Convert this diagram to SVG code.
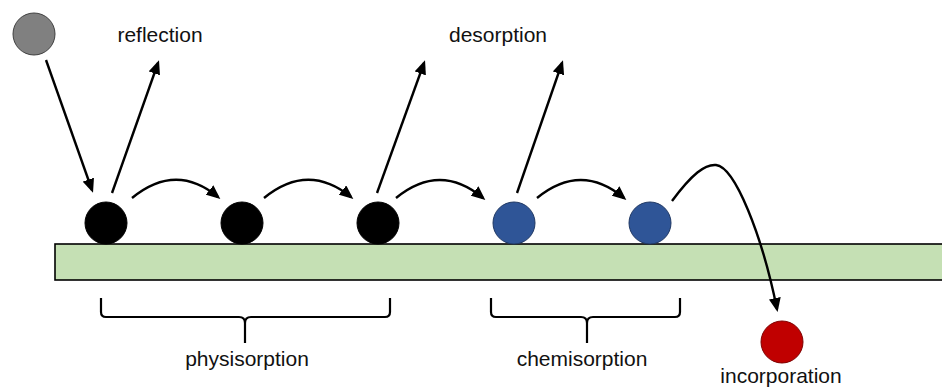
<svg xmlns="http://www.w3.org/2000/svg" width="942" height="387" viewBox="0 0 942 387">
<style>
.lbl{font-family:"Liberation Sans",Arial,sans-serif;font-size:21px;fill:#111;text-anchor:middle}
.con{fill:none;stroke:#000;stroke-width:2.4}
.blk{fill:#000;stroke:#000;stroke-width:1}
.blu{fill:#2f5597;stroke:#1f3864;stroke-width:1}
.brk{fill:none;stroke:#000;stroke-width:2.2}
</style>
<defs>
<marker id="ah" markerUnits="userSpaceOnUse" markerWidth="14" markerHeight="12" refX="11" refY="6" orient="auto">
<path d="M0,0 L14,6 L0,12 z" fill="#000"/>
</marker>
</defs>
<g id="substrate"><rect x="55" y="244" width="890" height="36" fill="#c5e0b4" stroke="#000" stroke-width="1.6"/></g>
<g id="incoming"><circle cx="34" cy="34" r="21" fill="#808080" stroke="#404040" stroke-width="1"/></g>
<g id="p1"><circle class="blk" cx="106" cy="223" r="21"/></g>
<g id="p2"><circle class="blk" cx="242" cy="223" r="21"/></g>
<g id="p3"><circle class="blk" cx="378" cy="223" r="21"/></g>
<g id="c1"><circle class="blu" cx="514" cy="223" r="21"/></g>
<g id="c2"><circle class="blu" cx="650" cy="223" r="21"/></g>
<g id="incorp"><circle cx="782" cy="342" r="21" fill="#c00000" stroke="#7f0000" stroke-width="1"/></g>
<g id="connectors">
<path class="con" marker-end="url(#ah)" d="M46,60 L92,190"/>
<path class="con" marker-end="url(#ah)" d="M112,193 L158,63"/>
<path class="con" marker-end="url(#ah)" d="M377,193 L424,63"/>
<path class="con" marker-end="url(#ah)" d="M517,193 L562,63"/>
<path class="con" marker-end="url(#ah)" d="M132,198 Q176,162 218,197"/>
<path class="con" marker-end="url(#ah)" d="M264,198 Q308,162 351,197"/>
<path class="con" marker-end="url(#ah)" d="M396,198 Q440,162 483,198"/>
<path class="con" marker-end="url(#ah)" d="M537,198 Q581,162 624,198"/>
<path class="con" marker-end="url(#ah)" d="M672,201 C692,174 705,164 716,165 C735,167 762,235 777,309"/>
</g>
<g id="brackets">
<path class="brk" d="M101,298 V312 Q101,317 106,317 H239 Q245,317 245,323 V343 M245,323 Q245,317 251,317 H385 Q390,317 390,312 V298"/>
<path class="brk" d="M491,298 V312 Q491,317 496,317 H581 Q587,317 587,323 V343 M587,323 Q587,317 593,317 H675 Q680,317 680,312 V298"/>
</g>
<g id="labels">
<text class="lbl" x="160" y="42">reflection</text>
<text class="lbl" x="498" y="42">desorption</text>
<text class="lbl" x="247" y="366">physisorption</text>
<text class="lbl" x="582" y="366">chemisorption</text>
<text class="lbl" x="781" y="383">incorporation</text>
</g>
</svg>
